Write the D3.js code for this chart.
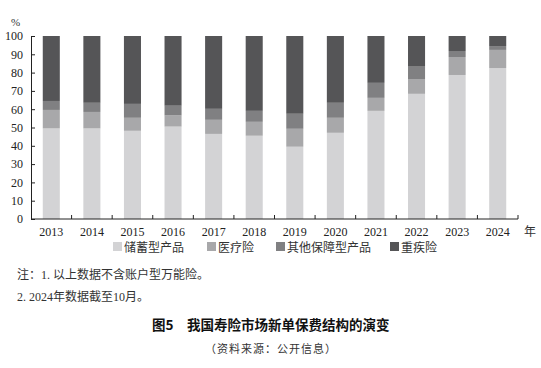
<!DOCTYPE html>
<html lang="zh">
<head>
<meta charset="UTF-8">
<title>我国寿险市场新单保费结构的演变</title>
<script src="https://d3js.org/d3.v7.min.js"></script>
<style>
    html, body { margin: 0; padding: 0; background: #fff; }
    svg { display: block; }
    .tick text { font-family: "Liberation Serif", "DejaVu Serif", serif; font-size: 12px; fill: #222; }
    .note { font-family: "Liberation Serif", "Noto Sans CJK SC", serif; font-size: 12px; fill: #333; }
    .legend text { font-family: "Noto Sans CJK SC", sans-serif; font-size: 12px; fill: #333; }
</style>
</head>
<body>
<div id="chart"></div>
<script>
    // data
    var years = ["2013", "2014", "2015", "2016", "2017", "2018", "2019", "2020", "2021", "2022", "2023", "2024"];
    var seriesNames = ["储蓄型产品", "医疗险", "其他保障型产品", "重疾险"];
    var savings  = [49.5, 49.5, 48.2, 50.5, 46.5, 45.5, 39.5, 47.1, 59.1, 68.4, 78.7, 82.5];
    var medical  = [10.1, 9.0, 7.1, 6.1, 7.7, 7.6, 9.8, 8.2, 7.1, 8.1, 9.8, 9.9];
    var other    = [4.9, 5.0, 7.6, 5.3, 6.0, 6.0, 8.2, 8.2, 8.2, 7.1, 3.3, 2.1];
    var critical = [35.5, 36.5, 37.1, 38.1, 39.8, 40.9, 42.5, 36.5, 25.6, 16.4, 8.2, 5.5];
    var yTicks = [0, 10, 20, 30, 40, 50, 60, 70, 80, 90, 100];

    var colors = ["#d3d3d5", "#a8a8aa", "#808082", "#555557"];

    var width = 541, height = 368;
    var margin = { left: 31, right: 23, top: 36, bottom: 149 };

    var svg = d3.select("#chart").append("svg")
        .attr("width", width)
        .attr("height", height);

    var table = years.map(function (y, i) {
        return { year: y, s0: savings[i], s1: medical[i], s2: other[i], s3: critical[i] };
    });

    var stack = d3.stack().keys(["s0", "s1", "s2", "s3"]);
    var layers = stack(table);

    var x = d3.scaleBand()
        .domain(years)
        .range([margin.left, width - margin.right])
        .paddingInner(0.58)
        .paddingOuter(0.29);

    var y = d3.scaleLinear()
        .domain([0, 100])
        .range([height - margin.bottom, margin.top]);

    svg.append("g")
        .selectAll("g")
        .data(layers)
        .join("g")
        .attr("fill", function (d, i) { return colors[i]; })
        .selectAll("rect")
        .data(function (d) { return d; })
        .join("rect")
        .attr("x", function (d) { return x(d.data.year); })
        .attr("width", x.bandwidth())
        .attr("y", function (d) { return y(d[1]); })
        .attr("height", function (d) { return y(d[0]) - y(d[1]); });

    // y axis, ticks pointing inward
    var yAxis = svg.append("g")
        .attr("transform", "translate(" + margin.left + ",0)")
        .call(d3.axisLeft(y).tickValues(yTicks).tickSize(-4).tickPadding(8));
    yAxis.select(".domain").attr("stroke", "#222");
    yAxis.selectAll(".tick line").attr("stroke", "#222");

    // x axis with boundary ticks pointing up
    var step = x.step();
    var x0 = margin.left;
    var xAxis = svg.append("g")
        .attr("transform", "translate(0," + y(0) + ")");
    xAxis.append("line")
        .attr("x1", x0).attr("x2", width - margin.right)
        .attr("stroke", "#222");
    xAxis.selectAll("line.b")
        .data(d3.range(1, years.length + 1))
        .join("line")
        .attr("class", "b")
        .attr("x1", function (d) { return x0 + d * step; })
        .attr("x2", function (d) { return x0 + d * step; })
        .attr("y1", 0).attr("y2", -4)
        .attr("stroke", "#222");
    xAxis.selectAll("text")
        .data(years)
        .join("text")
        .attr("x", function (d) { return x(d) + x.bandwidth() / 2; })
        .attr("y", 17)
        .attr("text-anchor", "middle")
        .style("font-family", "'Liberation Serif', serif")
        .style("font-size", "12px")
        .style("fill", "#222")
        .text(function (d) { return d; });

    svg.append("text")
        .attr("x", 11).attr("y", 26)
        .style("font-family", "'Liberation Serif', serif")
        .style("font-size", "11px")
        .style("fill", "#333")
        .text("%");

    svg.append("text")
        .attr("x", width - 17).attr("y", y(0) + 17)
        .style("font-family", "'Noto Sans CJK SC', sans-serif")
        .style("font-size", "12px")
        .style("fill", "#333")
        .text("年");

    // legend
    var legendX = [113, 207, 276, 390];
    var legend = svg.append("g").attr("class", "legend");
    var item = legend.selectAll("g")
        .data(seriesNames)
        .join("g")
        .attr("transform", function (d, i) { return "translate(" + legendX[i] + ",242)"; });
    item.append("rect")
        .attr("width", 9).attr("height", 9)
        .attr("fill", function (d, i) { return colors[i]; });
    item.append("text")
        .attr("x", 11).attr("y", 9.5)
        .text(function (d) { return d; });

    // notes
    svg.append("text").attr("class", "note")
        .attr("x", 17).attr("y", 279)
        .text("注：1. 以上数据不含账户型万能险。");
    svg.append("text").attr("class", "note")
        .attr("x", 17).attr("y", 301)
        .text("2. 2024年数据截至10月。");

    // caption
    var title = svg.append("text")
        .attr("x", 152).attr("y", 330)
        .style("font-family", "'Noto Sans CJK SC', sans-serif")
        .style("font-size", "13.5px")
        .style("font-weight", "bold")
        .style("fill", "#111");
    title.append("tspan").text("图5");
    title.append("tspan").attr("x", 187).text("我国寿险市场新单保费结构的演变");
    svg.append("text")
        .attr("x", 271).attr("y", 353)
        .attr("text-anchor", "middle")
        .style("font-family", "'Noto Sans CJK SC', sans-serif")
        .style("font-size", "11px")
        .style("letter-spacing", "1px")
        .style("fill", "#333")
        .text("（资料来源：公开信息）");
</script>
</body>
</html>
